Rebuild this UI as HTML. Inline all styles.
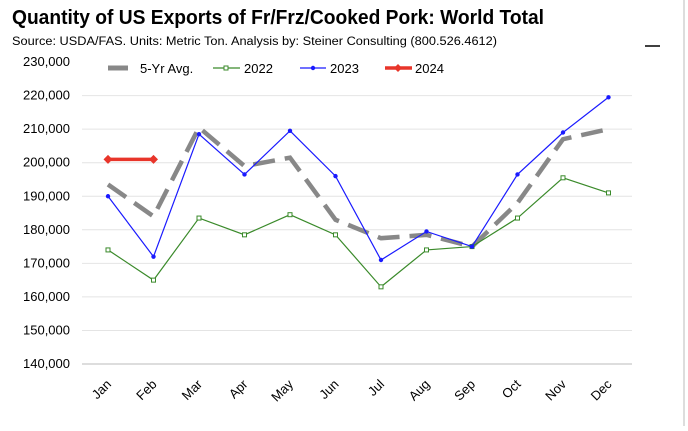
<!DOCTYPE html>
<html><head><meta charset="utf-8"><style>
body{margin:0;background:#fff;width:688px;height:426px;overflow:hidden;font-family:"Liberation Sans",sans-serif}
</style></head><body>
<svg width="688" height="426" xmlns="http://www.w3.org/2000/svg" font-family="Liberation Sans, sans-serif">
<line x1="684" y1="0" x2="684" y2="426" stroke="#bbb" stroke-width="1"/>
<text x="12" y="24" font-size="20" font-weight="bold" textLength="532" lengthAdjust="spacingAndGlyphs">Quantity of US Exports of Fr/Frz/Cooked Pork: World Total</text>
<text x="12" y="45" font-size="11.5" textLength="485" lengthAdjust="spacingAndGlyphs">Source: USDA/FAS.  Units: Metric Ton.  Analysis by: Steiner Consulting (800.526.4612)</text>
<line x1="645" y1="46" x2="660" y2="46" stroke="#000" stroke-width="1.5"/>
<g id="grid"></g><g id="yl"></g><g id="xl"></g><g id="series"></g>
<g font-size="13">
<g><line x1="108" y1="68" x2="128" y2="68" stroke="#888" stroke-width="5"/><text x="140" y="73">5-Yr Avg.</text></g>
<g><line x1="213" y1="68" x2="240" y2="68" stroke="#3a8a2a" stroke-width="1.2"/><rect x="224" y="66" width="4" height="4" fill="#fff" stroke="#3a8a2a"/><text x="244" y="73">2022</text></g>
<g><line x1="300" y1="68" x2="326" y2="68" stroke="#1a1aff" stroke-width="1.2"/><circle cx="313" cy="68" r="2.2" fill="#1a1aff"/><text x="330" y="73">2023</text></g>
<g><line x1="385" y1="68" x2="412" y2="68" stroke="#e8352a" stroke-width="3.5"/><path d="M398,64 L402,68 L398,72 L394,68 Z" fill="#e8352a"/><text x="415" y="73">2024</text></g>
</g>
</svg>
<script>
const months=["Jan","Feb","Mar","Apr","May","Jun","Jul","Aug","Sep","Oct","Nov","Dec"];
const yTicks=[140000,150000,160000,170000,180000,190000,200000,210000,220000,230000];
const avg5=[193500,184000,210500,199000,201500,183000,177500,178500,175000,188000,207000,210000];
const s2022=[174000,165000,183500,178500,184500,178500,163000,174000,175000,183500,195500,191000];
const s2023=[190000,172000,208500,196500,209500,196000,171000,179500,175000,196500,209000,219500];
const s2024=[201000,201000];
const NS="http://www.w3.org/2000/svg";
const y=v=>364-(v-140000)/10000*33.55;
const x=i=>108+i*45.5;
function mk(t,a,p){const e=document.createElementNS(NS,t);for(const k in a)e.setAttribute(k,a[k]);document.getElementById(p).appendChild(e);return e;}
yTicks.forEach(v=>{
 if(v!==230000){const l=mk('line',{x1:82,x2:632,y1:y(v),y2:y(v),stroke:v===140000?'#bbb':'#e4e4e4','stroke-width':1},'grid');
 
 }
 const t=mk('text',{x:70,y:y(v)+4,'font-size':13,'text-anchor':'end'},'yl');t.textContent=v.toLocaleString('en-US');
 
 
});
months.forEach((m,i)=>{
 const t=mk('text',{x:x(i)+4,y:385,'font-size':13,'text-anchor':'end',transform:`rotate(-45 ${x(i)+4} 385)`},'xl');t.textContent=m;
 
 
});
function line(d,col,w,dash,name){const p=mk('polyline',{points:d.map((v,i)=>x(i)+','+y(v)).join(' '),fill:'none',stroke:col,'stroke-width':w,'stroke-dasharray':dash||'none'},'series');
 
 }
line(avg5,'#888',4.5,'22 10','series-5yr-avg');
line(s2022,'#3a8a2a',1.2,null,'series-2022');
s2022.forEach((v,i)=>{const r=mk('rect',{x:x(i)-2,y:y(v)-2,width:4,height:4,fill:'#fff',stroke:'#3a8a2a','stroke-width':1},'series');
 
 });
line(s2023,'#1a1aff',1.2,null,'series-2023');
s2023.forEach((v,i)=>{const c=mk('circle',{cx:x(i),cy:y(v),r:2.2,fill:'#1a1aff'},'series');
 
 });
line(s2024,'#e8352a',3.5,null,'series-2024');
s2024.forEach((v,i)=>{const cx=x(i),cy=y(v);const c=mk('path',{d:`M${cx},${cy-4.5} L${cx+4.5},${cy} L${cx},${cy+4.5} L${cx-4.5},${cy} Z`,fill:'#e8352a'},'series');
 
 });
</script>
</body></html>
